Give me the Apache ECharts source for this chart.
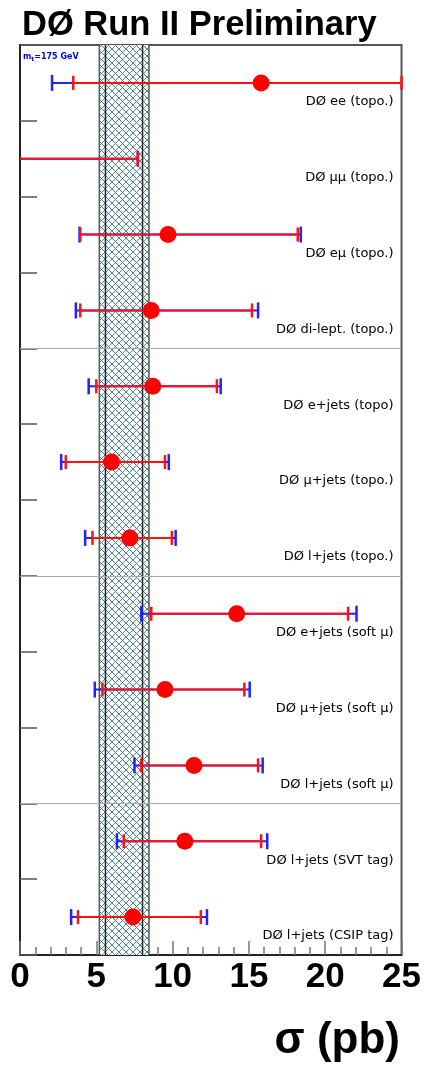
<!DOCTYPE html>
<html>
<head>
<meta charset="utf-8">
<script src="https://cdn.jsdelivr.net/npm/echarts@6/dist/echarts.min.js"></script>
<style>
   html, body { margin: 0; padding: 0; background: #fff; }
   #chart { width: 424px; height: 1067px; }
</style>
</head>
<body>
<div id="chart"></div>
<script>
// measurements, top to bottom
var labels = [
   'DØ ee (topo.)',
   'DØ μμ (topo.)',
   'DØ eμ (topo.)',
   'DØ di-lept. (topo.)',
   'DØ e+jets (topo)',
   'DØ μ+jets (topo.)',
   'DØ l+jets (topo.)',
   'DØ e+jets (soft μ)',
   'DØ μ+jets (soft μ)',
   'DØ l+jets (soft μ)',
   'DØ l+jets (SVT tag)',
   'DØ l+jets (CSIP tag)'
];
var central = [15.8, -1.5, 9.7, 8.6, 8.7, 6.0, 7.2, 14.2, 9.5, 11.4, 10.8, 7.4];
// stat. error (red)
var statLo = [3.49, -8, 3.95, 3.95, 5.0, 3.0, 4.75, 8.6, 5.4, 7.95, 6.8, 3.8];
var statHi = [25, 7.72, 18.2, 15.2, 12.9, 9.5, 9.95, 21.5, 14.7, 15.6, 15.8, 11.85];
// total error (blue)
var totLo = [2.1, -10, 3.9, 3.66, 4.5, 2.7, 4.27, 7.95, 4.9, 7.5, 6.35, 3.35];
var totHi = [27, 7.72, 18.4, 15.6, 13.15, 9.75, 10.2, 22.05, 15.05, 15.9, 16.2, 12.25];
// theory band, m_t = 175 GeV
var bandOuter = [5.2, 8.45];
var bandInner = [5.6, 8.03];
// lines between analysis groups
var groupEdges = [4, 7, 10];
var xTicks = [0, 5, 10, 15, 20, 25];

// hatch pattern for the band
var T = 7;
var tile = document.createElement('canvas');
tile.width = T;
tile.height = T;
var tctx = tile.getContext('2d');
tctx.fillStyle = '#ffffff';
tctx.fillRect(0, 0, T, T);
tctx.lineWidth = 1;
tctx.strokeStyle = '#33bb44';
tctx.beginPath();
tctx.moveTo(T + 1, -1);
tctx.lineTo(-1, T + 1);
tctx.stroke();
tctx.strokeStyle = '#5a5aff';
tctx.beginPath();
tctx.moveTo(-1, -1);
tctx.lineTo(T + 1, T + 1);
tctx.stroke();

var rows = labels.map(function (name, i) {
   return [i, central[i], statLo[i], statHi[i], totLo[i], totHi[i]];
});

function renderBand(params, api) {
   var top = api.coord([api.value(0), 0])[1];
   var bottom = api.coord([api.value(0), 12])[1];
   var x0 = api.coord([api.value(0), 0])[0];
   var x1 = api.coord([api.value(1), 0])[0];
   var children = [{
      type: 'rect',
      shape: { x: x0, y: top, width: x1 - x0, height: bottom - top },
      style: { fill: { image: tile, repeat: 'repeat' } }
   }];
   [0, 1, 2, 3].forEach(function (k) {
      var x = api.coord([api.value(k), 0])[0];
      children.push({
         type: 'line',
         shape: { x1: x, y1: top, x2: x, y2: bottom },
         style: { stroke: k < 2 ? '#555' : '#222', lineWidth: 1.5 }
      });
   });
   return { type: 'group', children: children };
}

function renderRow(params, api) {
   var cs = params.coordSys;
   var left = cs.x, right = cs.x + cs.width;
   var i = api.value(0);
   var y = api.coord([0, i + 0.5])[1];
   var px = function (v) { return api.coord([v, 0])[0]; };
   var clamp = function (x) { return Math.max(left, Math.min(right, x)); };
   var children = [];

   function hline(a, b, color, w) {
      children.push({
         type: 'line',
         shape: { x1: clamp(px(a)), y1: y, x2: clamp(px(b)), y2: y },
         style: { stroke: color, lineWidth: w }
      });
   }
   function cap(v, h, color, w) {
      var x = px(v);
      if (x < left - 0.5 || x > right + 0.5) return;
      x = clamp(x);
      children.push({
         type: 'line',
         shape: { x1: x, y1: y - h / 2, x2: x, y2: y + h / 2 },
         style: { stroke: color, lineWidth: w }
      });
   }

   // total error in blue, stat error in red on top
   hline(api.value(4), api.value(5), '#2222ff', 2);
   cap(api.value(4), 16, '#2222ff', 2.5);
   cap(api.value(5), 16, '#2222ff', 2.5);
   hline(api.value(2), api.value(3), '#ff1111', 2);
   cap(api.value(2), 14, '#ff1111', 2.5);
   cap(api.value(3), 14, '#ff1111', 2.5);

   var cx = px(api.value(1));
   if (cx > left && cx < right) {
      children.push({
         type: 'circle',
         shape: { cx: cx, cy: y, r: 8.5 },
         style: { fill: '#ff0000' }
      });
   }

   children.push({
      type: 'text',
      x: right - 8,
      y: y + 19,
      style: {
         text: labels[i],
         font: '13px "DejaVu Sans"',
         fill: '#000',
         align: 'right',
         verticalAlign: 'middle'
      }
   });
   return { type: 'group', children: children };
}

var chart = echarts.init(document.getElementById('chart'));
var option = {
   backgroundColor: '#fff',
   animation: false,
   grid: {
      left: 20,
      right: 21,
      top: 45,
      bottom: 112,
      show: true,
      borderColor: '#555',
      borderWidth: 2,
      backgroundColor: '#fff'
   },
   xAxis: {
      type: 'value',
      position: 'bottom',
      min: 0,
      max: 25,
      interval: 5,
      axisLine: { show: true, onZero: false, lineStyle: { color: '#222', width: 2 } },
      axisTick: { inside: true, length: 14, lineStyle: { color: '#777', width: 1.5 } },
      minorTick: { show: true, splitNumber: 5, length: 8, lineStyle: { color: '#777', width: 1.5 } },
      splitLine: { show: false },
      axisLabel: {
         margin: 5,
         color: '#000',
         fontSize: 35,
         fontWeight: 'bold',
         fontFamily: '"Liberation Sans", Arial, sans-serif',
         formatter: function (v) { return xTicks.indexOf(v) >= 0 ? String(v) : ''; }
      }
   },
   yAxis: {
      type: 'value',
      position: 'left',
      min: 0,
      max: 12,
      interval: 1,
      inverse: true,
      axisLine: { show: true, onZero: false, lineStyle: { color: '#222', width: 2 } },
      axisTick: { inside: true, length: 17, lineStyle: { color: '#555', width: 1.5 } },
      axisLabel: { show: false },
      splitLine: { show: false }
   },
   graphic: [
      {
         type: 'text',
         x: 22,
         y: 25,
         style: {
            text: 'DØ Run II Preliminary',
            font: 'bold 34.5px "Liberation Sans", Arial, sans-serif',
            fill: '#000',
            verticalAlign: 'middle'
         }
      },
      {
         type: 'text',
         x: 400,
         y: 1041,
         style: {
            text: 'σ (pb)',
            font: 'bold 44px "Liberation Sans", Arial, sans-serif',
            fill: '#000',
            align: 'right',
            verticalAlign: 'middle'
         }
      },
      {
         type: 'text',
         x: 23,
         y: 57,
         z: 100,
         style: {
            text: '{a|m}{b|t}{a|=175 GeV}',
            fill: '#0000ee',
            verticalAlign: 'middle',
            rich: {
               a: { fontSize: 8, fontWeight: 'bold', fontFamily: '"DejaVu Sans"', fill: '#0000ee' },
               b: { fontSize: 6, fontWeight: 'bold', fontFamily: '"DejaVu Sans"', fill: '#0000ee', padding: [4, 0, 0, 0] }
            }
         }
      }
   ],
   series: [
      {
         // theory band
         type: 'custom',
         renderItem: renderBand,
         data: [[bandOuter[0], bandOuter[1], bandInner[0], bandInner[1]]],
         encode: { x: [0, 1, 2, 3] },
         silent: true,
         z: 1,
         markLine: {
            silent: true,
            symbol: 'none',
            label: { show: false },
            lineStyle: { color: '#aaa', width: 1, type: 'solid' },
            data: groupEdges.map(function (v) { return { yAxis: v }; })
         }
      },
      {
         // measurements
         type: 'custom',
         renderItem: renderRow,
         data: rows,
         encode: { x: [1, 2, 3, 4, 5], y: 0 },
         silent: true,
         z: 5
      }
   ]
};
chart.setOption(option);
</script>
</body>
</html>
